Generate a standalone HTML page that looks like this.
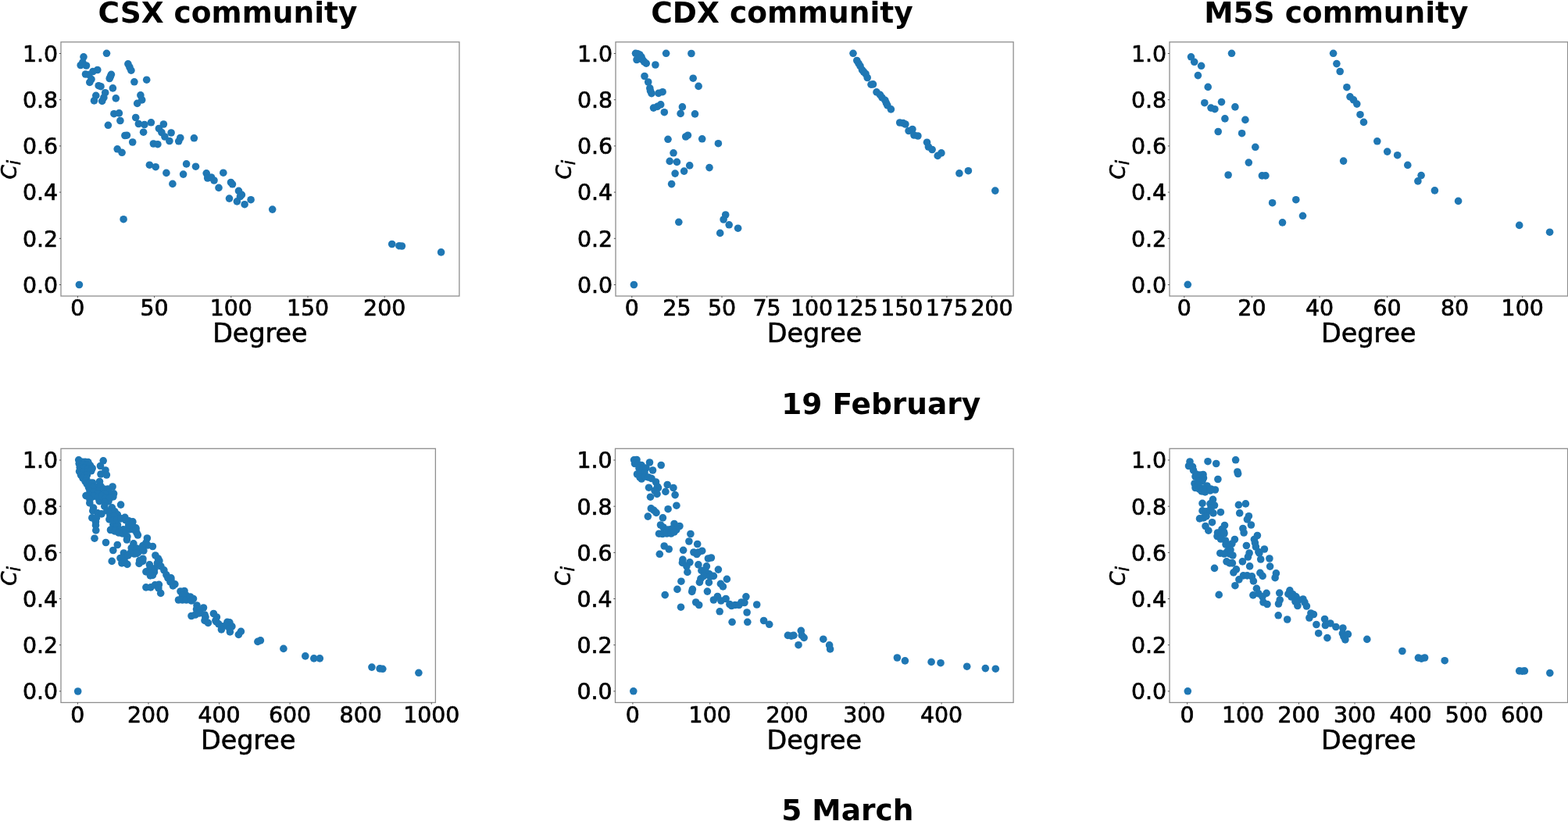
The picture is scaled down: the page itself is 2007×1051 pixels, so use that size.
<!DOCTYPE html>
<html lang="en">
<head>
<meta charset="utf-8">
<title>Clustering coefficient vs degree</title>
<style>
html,body{margin:0;padding:0;background:#fff;}
body{width:2007px;height:1051px;overflow:hidden;}
svg{display:block;}
text{font-family:"DejaVu Sans", "Liberation Sans", sans-serif;fill:#000;}
.t{font-size:28.4px;stroke:#000;stroke-width:0.7px;stroke-linejoin:round;}
.l{font-size:33.4px;text-anchor:middle;stroke:#000;stroke-width:0.6px;stroke-linejoin:round;}
.h{font-size:37.5px;font-weight:bold;}
.y{font-size:26.2px;font-style:italic;text-anchor:start;stroke:#000;stroke-width:0.6px;stroke-linejoin:round;}
.yi{font-size:22.5px;}
.fr{fill:none;stroke:#8e8e8e;stroke-width:1.3;}
.tk{stroke:#444;stroke-width:0.9;}
.d circle{fill:#1f77b4;}
</style>
</head>
<body>
<svg width="2007" height="1051" viewBox="0 0 2007 1051">
<rect width="2007" height="1051" fill="#fff"/>
<g id="p1">
<g class="d"><circle cx="136.5" cy="68.3" r="4.8"/><circle cx="107" cy="72.8" r="4.8"/><circle cx="103.2" cy="83.5" r="4.8"/><circle cx="110.5" cy="84" r="4.8"/><circle cx="105.8" cy="80" r="4.8"/><circle cx="124.8" cy="89.5" r="4.8"/><circle cx="119" cy="91.5" r="4.8"/><circle cx="109.5" cy="95" r="4.8"/><circle cx="114" cy="95.5" r="4.8"/><circle cx="117" cy="101.5" r="4.8"/><circle cx="114.8" cy="105.4" r="4.8"/><circle cx="142.4" cy="95.3" r="4.8"/><circle cx="141.4" cy="98" r="4.8"/><circle cx="140.2" cy="100.5" r="4.8"/><circle cx="163.9" cy="81.8" r="4.8"/><circle cx="165.9" cy="86" r="4.8"/><circle cx="167.9" cy="90.2" r="4.8"/><circle cx="171.9" cy="104.8" r="4.8"/><circle cx="187.7" cy="102.2" r="4.8"/><circle cx="126.2" cy="109.7" r="4.8"/><circle cx="129" cy="110.7" r="4.8"/><circle cx="144.4" cy="112.9" r="4.8"/><circle cx="134.7" cy="118.7" r="4.8"/><circle cx="122.8" cy="122.4" r="4.8"/><circle cx="120.5" cy="128.9" r="4.8"/><circle cx="132.9" cy="124.9" r="4.8"/><circle cx="130.7" cy="129.4" r="4.8"/><circle cx="148.3" cy="125.9" r="4.8"/><circle cx="179.9" cy="121.9" r="4.8"/><circle cx="181.7" cy="127.9" r="4.8"/><circle cx="175.7" cy="132.4" r="4.8"/><circle cx="145.9" cy="145.7" r="4.8"/><circle cx="152.4" cy="144.9" r="4.8"/><circle cx="138.4" cy="160.3" r="4.8"/><circle cx="153.9" cy="154.5" r="4.8"/><circle cx="173.7" cy="150.5" r="4.8"/><circle cx="177.4" cy="158.5" r="4.8"/><circle cx="184.9" cy="159.5" r="4.8"/><circle cx="193.4" cy="156.8" r="4.8"/><circle cx="183.6" cy="169.2" r="4.8"/><circle cx="209.4" cy="159" r="4.8"/><circle cx="203.4" cy="164.5" r="4.8"/><circle cx="206.9" cy="169.5" r="4.8"/><circle cx="210.9" cy="175" r="4.8"/><circle cx="216.9" cy="180.5" r="4.8"/><circle cx="219.1" cy="170" r="4.8"/><circle cx="230.8" cy="176.5" r="4.8"/><circle cx="228.7" cy="180.8" r="4.8"/><circle cx="248.4" cy="176.8" r="4.8"/><circle cx="159.9" cy="173.5" r="4.8"/><circle cx="162.4" cy="173.2" r="4.8"/><circle cx="169.7" cy="182" r="4.8"/><circle cx="196.4" cy="184" r="4.8"/><circle cx="201.9" cy="184.7" r="4.8"/><circle cx="150.2" cy="190.8" r="4.8"/><circle cx="156.1" cy="195.3" r="4.8"/><circle cx="191.4" cy="211.2" r="4.8"/><circle cx="199.2" cy="213.7" r="4.8"/><circle cx="212.9" cy="221.4" r="4.8"/><circle cx="220.9" cy="235.4" r="4.8"/><circle cx="234.6" cy="223.1" r="4.8"/><circle cx="238.6" cy="209.9" r="4.8"/><circle cx="250.5" cy="213.2" r="4.8"/><circle cx="264.2" cy="221.8" r="4.8"/><circle cx="265.7" cy="228" r="4.8"/><circle cx="270.5" cy="227" r="4.8"/><circle cx="274" cy="231" r="4.8"/><circle cx="285.8" cy="221.2" r="4.8"/><circle cx="280" cy="240.4" r="4.8"/><circle cx="295.5" cy="233.5" r="4.8"/><circle cx="297.5" cy="235.8" r="4.8"/><circle cx="305.5" cy="244.4" r="4.8"/><circle cx="309.4" cy="249.4" r="4.8"/><circle cx="307.4" cy="251.7" r="4.8"/><circle cx="293.5" cy="254.1" r="4.8"/><circle cx="303.4" cy="257.9" r="4.8"/><circle cx="313.1" cy="261.7" r="4.8"/><circle cx="321.1" cy="255.7" r="4.8"/><circle cx="348.7" cy="268.1" r="4.8"/><circle cx="501.7" cy="312.5" r="4.8"/><circle cx="510.9" cy="314.7" r="4.8"/><circle cx="514.4" cy="315" r="4.8"/><circle cx="564.6" cy="322.9" r="4.8"/><circle cx="158.1" cy="280.7" r="4.8"/><circle cx="101.4" cy="364.5" r="4.8"/></g>
<rect class="fr" x="78" y="53.8" width="509.9" height="325.2"/>
<path class="tk" d="M99.4 379v2.2M197.6 379v2.2M295.8 379v2.2M394 379v2.2M492.2 379v2.2M78 364.5h-2.2M78 305.3h-2.2M78 246.1h-2.2M78 186.9h-2.2M78 127.7h-2.2M78 68.5h-2.2"/>
<text class="t" text-anchor="middle" x="99.4" y="404.1">0</text><text class="t" text-anchor="middle" x="197.6" y="404.1">50</text><text class="t" text-anchor="middle" x="295.8" y="404.1">100</text><text class="t" text-anchor="middle" x="394" y="404.1">150</text><text class="t" text-anchor="middle" x="492.2" y="404.1">200</text>
<text class="t" text-anchor="end" x="74.1" y="374.8">0.0</text><text class="t" text-anchor="end" x="74.1" y="315.6">0.2</text><text class="t" text-anchor="end" x="74.1" y="256.4">0.4</text><text class="t" text-anchor="end" x="74.1" y="197.2">0.6</text><text class="t" text-anchor="end" x="74.1" y="138">0.8</text><text class="t" text-anchor="end" x="74.1" y="78.8">1.0</text>
<text class="l" x="332.9" y="438.3">Degree</text>
<text class="y" transform="translate(20.8 229.4) rotate(-90)">C<tspan class="yi" dx="-0.1" dy="4.9">i</tspan></text>
<text class="h" text-anchor="middle" x="291.4" y="28.8">CSX community</text>
</g>
<g id="p2">
<g class="d"><circle cx="813.5" cy="68.3" r="4.8"/><circle cx="816.2" cy="68.8" r="4.8"/><circle cx="818.8" cy="70" r="4.8"/><circle cx="821" cy="73" r="4.8"/><circle cx="815" cy="76.5" r="4.8"/><circle cx="819" cy="75" r="4.8"/><circle cx="822.5" cy="76.5" r="4.8"/><circle cx="824.5" cy="79" r="4.8"/><circle cx="827.2" cy="81.2" r="4.8"/><circle cx="852.6" cy="68.3" r="4.8"/><circle cx="884.9" cy="68.5" r="4.8"/><circle cx="838.9" cy="83" r="4.8"/><circle cx="825" cy="97.5" r="4.8"/><circle cx="829.7" cy="105" r="4.8"/><circle cx="831.8" cy="112.9" r="4.8"/><circle cx="834" cy="119.7" r="4.8"/><circle cx="832.5" cy="116.4" r="4.8"/><circle cx="842.9" cy="119.4" r="4.8"/><circle cx="848.1" cy="117.7" r="4.8"/><circle cx="887.2" cy="100.2" r="4.8"/><circle cx="894.1" cy="110.4" r="4.8"/><circle cx="836.5" cy="138.1" r="4.8"/><circle cx="841.4" cy="136.4" r="4.8"/><circle cx="845.7" cy="133.9" r="4.8"/><circle cx="850.3" cy="143.7" r="4.8"/><circle cx="873.4" cy="136.9" r="4.8"/><circle cx="871.1" cy="145.4" r="4.8"/><circle cx="889.5" cy="145.9" r="4.8"/><circle cx="855" cy="178.3" r="4.8"/><circle cx="877.7" cy="175" r="4.8"/><circle cx="880.4" cy="173.2" r="4.8"/><circle cx="898.7" cy="177.8" r="4.8"/><circle cx="919.4" cy="183.7" r="4.8"/><circle cx="862" cy="195.8" r="4.8"/><circle cx="857.2" cy="206.4" r="4.8"/><circle cx="866.4" cy="207.4" r="4.8"/><circle cx="882.7" cy="211.9" r="4.8"/><circle cx="875.6" cy="219.1" r="4.8"/><circle cx="864.1" cy="222.1" r="4.8"/><circle cx="908" cy="214.6" r="4.8"/><circle cx="859.6" cy="235.6" r="4.8"/><circle cx="868.8" cy="284.3" r="4.8"/><circle cx="928.7" cy="275" r="4.8"/><circle cx="926.1" cy="281" r="4.8"/><circle cx="933.2" cy="287.8" r="4.8"/><circle cx="944.6" cy="292.2" r="4.8"/><circle cx="921.7" cy="298.4" r="4.8"/><circle cx="811.4" cy="364.5" r="4.8"/><circle cx="1092" cy="68.3" r="4.8"/><circle cx="1096.8" cy="77.5" r="4.8"/><circle cx="1099" cy="81.2" r="4.8"/><circle cx="1101" cy="84.5" r="4.8"/><circle cx="1103.5" cy="89.5" r="4.8"/><circle cx="1105.5" cy="92" r="4.8"/><circle cx="1108" cy="94.5" r="4.8"/><circle cx="1110.2" cy="99.5" r="4.8"/><circle cx="1115" cy="108.2" r="4.8"/><circle cx="1117.5" cy="107.9" r="4.8"/><circle cx="1122" cy="117.9" r="4.8"/><circle cx="1126.5" cy="121.4" r="4.8"/><circle cx="1129" cy="124.9" r="4.8"/><circle cx="1132.9" cy="128.4" r="4.8"/><circle cx="1134.4" cy="131.9" r="4.8"/><circle cx="1135.9" cy="134.9" r="4.8"/><circle cx="1140.4" cy="139.9" r="4.8"/><circle cx="1151.7" cy="157" r="4.8"/><circle cx="1155.9" cy="157.5" r="4.8"/><circle cx="1158.9" cy="159" r="4.8"/><circle cx="1163.1" cy="167.5" r="4.8"/><circle cx="1167.9" cy="165.5" r="4.8"/><circle cx="1169.9" cy="173" r="4.8"/><circle cx="1174.9" cy="174" r="4.8"/><circle cx="1186.5" cy="182.2" r="4.8"/><circle cx="1188.4" cy="188" r="4.8"/><circle cx="1193.1" cy="191.5" r="4.8"/><circle cx="1204.9" cy="195.9" r="4.8"/><circle cx="1200.2" cy="199.4" r="4.8"/><circle cx="1227.9" cy="221.9" r="4.8"/><circle cx="1239.4" cy="218.7" r="4.8"/><circle cx="1273.8" cy="244.1" r="4.8"/></g>
<rect class="fr" x="788" y="53.8" width="509.1" height="325.2"/>
<path class="tk" d="M808.8 379v2.2M866.4 379v2.2M924 379v2.2M981.6 379v2.2M1039.1 379v2.2M1096.7 379v2.2M1154.3 379v2.2M1211.9 379v2.2M1269.5 379v2.2M788 364.5h-2.2M788 305.3h-2.2M788 246.1h-2.2M788 186.9h-2.2M788 127.7h-2.2M788 68.5h-2.2"/>
<text class="t" text-anchor="middle" x="808.8" y="404.1">0</text><text class="t" text-anchor="middle" x="866.4" y="404.1">25</text><text class="t" text-anchor="middle" x="924" y="404.1">50</text><text class="t" text-anchor="middle" x="981.6" y="404.1">75</text><text class="t" text-anchor="middle" x="1039.1" y="404.1">100</text><text class="t" text-anchor="middle" x="1096.7" y="404.1">125</text><text class="t" text-anchor="middle" x="1154.3" y="404.1">150</text><text class="t" text-anchor="middle" x="1211.9" y="404.1">175</text><text class="t" text-anchor="middle" x="1269.5" y="404.1">200</text>
<text class="t" text-anchor="end" x="784.1" y="374.8">0.0</text><text class="t" text-anchor="end" x="784.1" y="315.6">0.2</text><text class="t" text-anchor="end" x="784.1" y="256.4">0.4</text><text class="t" text-anchor="end" x="784.1" y="197.2">0.6</text><text class="t" text-anchor="end" x="784.1" y="138">0.8</text><text class="t" text-anchor="end" x="784.1" y="78.8">1.0</text>
<text class="l" x="1042.5" y="438.3">Degree</text>
<text class="y" transform="translate(730.8 229.4) rotate(-90)">C<tspan class="yi" dx="-0.1" dy="4.9">i</tspan></text>
<text class="h" text-anchor="middle" x="1001" y="28.8">CDX community</text>
</g>
<g id="p3">
<g class="d"><circle cx="1576.5" cy="68.3" r="4.8"/><circle cx="1524.5" cy="72.8" r="4.8"/><circle cx="1528.7" cy="79.3" r="4.8"/><circle cx="1537.6" cy="84.3" r="4.8"/><circle cx="1533.4" cy="96.6" r="4.8"/><circle cx="1546.2" cy="111.4" r="4.8"/><circle cx="1541.8" cy="131.7" r="4.8"/><circle cx="1550" cy="138.1" r="4.8"/><circle cx="1554.9" cy="139.7" r="4.8"/><circle cx="1563.5" cy="130.6" r="4.8"/><circle cx="1580.9" cy="136.9" r="4.8"/><circle cx="1567.9" cy="151.9" r="4.8"/><circle cx="1593.9" cy="153.4" r="4.8"/><circle cx="1559.2" cy="168.5" r="4.8"/><circle cx="1589.6" cy="170.7" r="4.8"/><circle cx="1606.8" cy="188.3" r="4.8"/><circle cx="1598.3" cy="208.1" r="4.8"/><circle cx="1572.1" cy="224" r="4.8"/><circle cx="1615.4" cy="224.9" r="4.8"/><circle cx="1619.9" cy="224.9" r="4.8"/><circle cx="1628.6" cy="259.7" r="4.8"/><circle cx="1658.8" cy="255.7" r="4.8"/><circle cx="1667.5" cy="276.3" r="4.8"/><circle cx="1641.5" cy="284.9" r="4.8"/><circle cx="1520.3" cy="364.3" r="4.8"/><circle cx="1706.6" cy="68.3" r="4.8"/><circle cx="1710.9" cy="81.6" r="4.8"/><circle cx="1715.2" cy="91.5" r="4.8"/><circle cx="1723.9" cy="111.7" r="4.8"/><circle cx="1728" cy="123.9" r="4.8"/><circle cx="1732.5" cy="127.9" r="4.8"/><circle cx="1736.8" cy="133.1" r="4.8"/><circle cx="1741" cy="146.7" r="4.8"/><circle cx="1745.5" cy="156.4" r="4.8"/><circle cx="1762.8" cy="180.8" r="4.8"/><circle cx="1775.7" cy="194.1" r="4.8"/><circle cx="1788.7" cy="198.7" r="4.8"/><circle cx="1801.8" cy="211.4" r="4.8"/><circle cx="1819.1" cy="224.6" r="4.8"/><circle cx="1814.9" cy="231.9" r="4.8"/><circle cx="1836.4" cy="243.9" r="4.8"/><circle cx="1866.6" cy="257.4" r="4.8"/><circle cx="1719.6" cy="206.1" r="4.8"/><circle cx="1944.7" cy="288.4" r="4.8"/><circle cx="1983.6" cy="297.2" r="4.8"/></g>
<rect class="fr" x="1497" y="53.8" width="509.6" height="325.2"/>
<path class="tk" d="M1515.8 379v2.2M1602.4 379v2.2M1689 379v2.2M1775.5 379v2.2M1862.1 379v2.2M1948.7 379v2.2M1497 364.5h-2.2M1497 305.3h-2.2M1497 246.1h-2.2M1497 186.9h-2.2M1497 127.7h-2.2M1497 68.5h-2.2"/>
<text class="t" text-anchor="middle" x="1515.8" y="404.1">0</text><text class="t" text-anchor="middle" x="1602.4" y="404.1">20</text><text class="t" text-anchor="middle" x="1689" y="404.1">40</text><text class="t" text-anchor="middle" x="1775.5" y="404.1">60</text><text class="t" text-anchor="middle" x="1862.1" y="404.1">80</text><text class="t" text-anchor="middle" x="1948.7" y="404.1">100</text>
<text class="t" text-anchor="end" x="1493.1" y="374.8">0.0</text><text class="t" text-anchor="end" x="1493.1" y="315.6">0.2</text><text class="t" text-anchor="end" x="1493.1" y="256.4">0.4</text><text class="t" text-anchor="end" x="1493.1" y="197.2">0.6</text><text class="t" text-anchor="end" x="1493.1" y="138">0.8</text><text class="t" text-anchor="end" x="1493.1" y="78.8">1.0</text>
<text class="l" x="1751.8" y="438.3">Degree</text>
<text class="y" transform="translate(1439.8 229.4) rotate(-90)">C<tspan class="yi" dx="-0.1" dy="4.9">i</tspan></text>
<text class="h" text-anchor="middle" x="1710.3" y="28.8">M5S community</text>
</g>
<g id="p4">
<g class="d"><circle cx="100.7" cy="588.8" r="4.8"/><circle cx="105.5" cy="591.4" r="4.8"/><circle cx="109" cy="591.3" r="4.8"/><circle cx="112.8" cy="591.6" r="4.8"/><circle cx="101.2" cy="593.5" r="4.8"/><circle cx="106.5" cy="594.5" r="4.8"/><circle cx="111.5" cy="595.5" r="4.8"/><circle cx="115.5" cy="595.8" r="4.8"/><circle cx="102.2" cy="598.5" r="4.8"/><circle cx="107.5" cy="599.2" r="4.8"/><circle cx="113" cy="599.8" r="4.8"/><circle cx="118.2" cy="599.5" r="4.8"/><circle cx="101.6" cy="603.5" r="4.8"/><circle cx="107" cy="604" r="4.8"/><circle cx="112.5" cy="604.2" r="4.8"/><circle cx="116.8" cy="602.8" r="4.8"/><circle cx="103.5" cy="608" r="4.8"/><circle cx="109" cy="608.5" r="4.8"/><circle cx="111.5" cy="608" r="4.8"/><circle cx="106" cy="612" r="4.8"/><circle cx="110.5" cy="612.5" r="4.8"/><circle cx="109" cy="616" r="4.8"/><circle cx="111.2" cy="619.5" r="4.8"/><circle cx="132.2" cy="589.8" r="4.8"/><circle cx="128.5" cy="596.5" r="4.8"/><circle cx="135" cy="602" r="4.8"/><circle cx="129" cy="607" r="4.8"/><circle cx="136.4" cy="608" r="4.8"/><circle cx="127.5" cy="616.5" r="4.8"/><circle cx="115" cy="618" r="4.8"/><circle cx="118.5" cy="618" r="4.8"/><circle cx="123.5" cy="623.5" r="4.8"/><circle cx="129" cy="622.5" r="4.8"/><circle cx="126" cy="628" r="4.8"/><circle cx="127.2" cy="641.6" r="4.8"/><circle cx="144.9" cy="671.4" r="4.8"/><circle cx="150.5" cy="672" r="4.8"/><circle cx="113.5" cy="624" r="4.8"/><circle cx="118.5" cy="624.5" r="4.8"/><circle cx="115" cy="628.9" r="4.8"/><circle cx="120" cy="629.9" r="4.8"/><circle cx="125" cy="631.9" r="4.8"/><circle cx="110" cy="634.6" r="4.8"/><circle cx="115" cy="634.6" r="4.8"/><circle cx="120" cy="635.4" r="4.8"/><circle cx="125.5" cy="636.9" r="4.8"/><circle cx="133" cy="626" r="4.8"/><circle cx="137.9" cy="626" r="4.8"/><circle cx="144.1" cy="623" r="4.8"/><circle cx="139.4" cy="629.9" r="4.8"/><circle cx="145.6" cy="631.9" r="4.8"/><circle cx="144.9" cy="635.9" r="4.8"/><circle cx="134" cy="631.9" r="4.8"/><circle cx="130" cy="635.4" r="4.8"/><circle cx="135" cy="637.9" r="4.8"/><circle cx="140.4" cy="637.9" r="4.8"/><circle cx="138.9" cy="641.9" r="4.8"/><circle cx="115" cy="639.4" r="4.8"/><circle cx="114.8" cy="643.9" r="4.8"/><circle cx="119.6" cy="650.1" r="4.8"/><circle cx="118.8" cy="653.9" r="4.8"/><circle cx="134" cy="642.9" r="4.8"/><circle cx="133.8" cy="648.2" r="4.8"/><circle cx="143.4" cy="649.9" r="4.8"/><circle cx="136.9" cy="653.9" r="4.8"/><circle cx="141.9" cy="654.9" r="4.8"/><circle cx="146.9" cy="654.9" r="4.8"/><circle cx="150.4" cy="658.9" r="4.8"/><circle cx="140.9" cy="659.9" r="4.8"/><circle cx="145.9" cy="660.9" r="4.8"/><circle cx="139.9" cy="664.9" r="4.8"/><circle cx="144.9" cy="665.9" r="4.8"/><circle cx="149.9" cy="664.9" r="4.8"/><circle cx="154.9" cy="663.9" r="4.8"/><circle cx="159.9" cy="662.4" r="4.8"/><circle cx="160.9" cy="665.9" r="4.8"/><circle cx="164.9" cy="666.9" r="4.8"/><circle cx="169.9" cy="667.9" r="4.8"/><circle cx="169.4" cy="671.9" r="4.8"/><circle cx="164.9" cy="672.9" r="4.8"/><circle cx="173.9" cy="675.9" r="4.8"/><circle cx="170.9" cy="677.9" r="4.8"/><circle cx="162.9" cy="677.9" r="4.8"/><circle cx="157.9" cy="677.9" r="4.8"/><circle cx="152.9" cy="678.4" r="4.8"/><circle cx="146.9" cy="677.9" r="4.8"/><circle cx="141.9" cy="678.1" r="4.8"/><circle cx="174.9" cy="681.9" r="4.8"/><circle cx="125" cy="656.9" r="4.8"/><circle cx="130" cy="657.9" r="4.8"/><circle cx="117.8" cy="662.9" r="4.8"/><circle cx="123.5" cy="662.9" r="4.8"/><circle cx="122.5" cy="667.9" r="4.8"/><circle cx="122.5" cy="672.4" r="4.8"/><circle cx="122.8" cy="678.9" r="4.8"/><circle cx="154.6" cy="646.1" r="4.8"/><circle cx="121" cy="689.2" r="4.8"/><circle cx="135.5" cy="694.5" r="4.8"/><circle cx="150.3" cy="697.5" r="4.8"/><circle cx="144.8" cy="704.5" r="4.8"/><circle cx="143.2" cy="718.4" r="4.8"/><circle cx="141.5" cy="678.5" r="4.8"/><circle cx="147" cy="680" r="4.8"/><circle cx="152" cy="682" r="4.8"/><circle cx="156.9" cy="683" r="4.8"/><circle cx="164.9" cy="678" r="4.8"/><circle cx="169.9" cy="676" r="4.8"/><circle cx="173.9" cy="677.5" r="4.8"/><circle cx="176.4" cy="685" r="4.8"/><circle cx="162.9" cy="687" r="4.8"/><circle cx="162.4" cy="691" r="4.8"/><circle cx="160.9" cy="679" r="4.8"/><circle cx="164.9" cy="672" r="4.8"/><circle cx="168.9" cy="671" r="4.8"/><circle cx="170.9" cy="695.8" r="4.8"/><circle cx="188.4" cy="689" r="4.8"/><circle cx="186.9" cy="695" r="4.8"/><circle cx="182.9" cy="698.5" r="4.8"/><circle cx="188.9" cy="698" r="4.8"/><circle cx="195.4" cy="699.5" r="4.8"/><circle cx="168.2" cy="701.5" r="4.8"/><circle cx="174.9" cy="702" r="4.8"/><circle cx="179.9" cy="704" r="4.8"/><circle cx="183.9" cy="705" r="4.8"/><circle cx="166.9" cy="708" r="4.8"/><circle cx="171.9" cy="709" r="4.8"/><circle cx="176.9" cy="707" r="4.8"/><circle cx="174.9" cy="708.5" r="4.8"/><circle cx="181.9" cy="701" r="4.8"/><circle cx="158.4" cy="708" r="4.8"/><circle cx="154" cy="714.5" r="4.8"/><circle cx="159.4" cy="714" r="4.8"/><circle cx="155.9" cy="720.9" r="4.8"/><circle cx="162.9" cy="722.4" r="4.8"/><circle cx="163.9" cy="711" r="4.8"/><circle cx="159.4" cy="718.9" r="4.8"/><circle cx="182.9" cy="715.2" r="4.8"/><circle cx="178.1" cy="721.4" r="4.8"/><circle cx="178.7" cy="717.5" r="4.8"/><circle cx="182.7" cy="718.4" r="4.8"/><circle cx="191.4" cy="722.9" r="4.8"/><circle cx="186.9" cy="731.9" r="4.8"/><circle cx="191.9" cy="727.9" r="4.8"/><circle cx="197.4" cy="732.4" r="4.8"/><circle cx="195.4" cy="736.4" r="4.8"/><circle cx="197.9" cy="727.9" r="4.8"/><circle cx="191.9" cy="733.9" r="4.8"/><circle cx="192.4" cy="736.9" r="4.8"/><circle cx="198.9" cy="711" r="4.8"/><circle cx="202.4" cy="715" r="4.8"/><circle cx="203.9" cy="718" r="4.8"/><circle cx="201.4" cy="720.9" r="4.8"/><circle cx="205.9" cy="724.9" r="4.8"/><circle cx="209.9" cy="729.9" r="4.8"/><circle cx="212.9" cy="735.9" r="4.8"/><circle cx="214.9" cy="739.9" r="4.8"/><circle cx="218.9" cy="739.9" r="4.8"/><circle cx="217.9" cy="744.9" r="4.8"/><circle cx="223.9" cy="747.9" r="4.8"/><circle cx="221.4" cy="749.9" r="4.8"/><circle cx="186.9" cy="751.9" r="4.8"/><circle cx="192.9" cy="751.9" r="4.8"/><circle cx="198.4" cy="748.9" r="4.8"/><circle cx="203.4" cy="748.4" r="4.8"/><circle cx="202.9" cy="752.9" r="4.8"/><circle cx="205.7" cy="759.4" r="4.8"/><circle cx="219" cy="743" r="4.8"/><circle cx="231" cy="757" r="4.8"/><circle cx="236" cy="756.5" r="4.8"/><circle cx="238" cy="762" r="4.8"/><circle cx="233.5" cy="762.5" r="4.8"/><circle cx="228.5" cy="768" r="4.8"/><circle cx="233.5" cy="768" r="4.8"/><circle cx="238.5" cy="768" r="4.8"/><circle cx="243.5" cy="764" r="4.8"/><circle cx="247.5" cy="766.5" r="4.8"/><circle cx="245" cy="769" r="4.8"/><circle cx="252" cy="775" r="4.8"/><circle cx="260.5" cy="778" r="4.8"/><circle cx="251.5" cy="780" r="4.8"/><circle cx="256" cy="781" r="4.8"/><circle cx="245" cy="788.5" r="4.8"/><circle cx="250" cy="787" r="4.8"/><circle cx="255" cy="785" r="4.8"/><circle cx="262" cy="787" r="4.8"/><circle cx="263" cy="790" r="4.8"/><circle cx="262" cy="794.4" r="4.8"/><circle cx="266.4" cy="797.4" r="4.8"/><circle cx="273.4" cy="785.5" r="4.8"/><circle cx="277.4" cy="790" r="4.8"/><circle cx="275.9" cy="794.4" r="4.8"/><circle cx="276.9" cy="795.9" r="4.8"/><circle cx="279.9" cy="798.9" r="4.8"/><circle cx="290.9" cy="796.4" r="4.8"/><circle cx="293.9" cy="796.9" r="4.8"/><circle cx="296.9" cy="801.9" r="4.8"/><circle cx="283.9" cy="801.9" r="4.8"/><circle cx="288.9" cy="800.9" r="4.8"/><circle cx="283.4" cy="805.9" r="4.8"/><circle cx="294.4" cy="808.9" r="4.8"/><circle cx="293.9" cy="804.9" r="4.8"/><circle cx="308.4" cy="808.4" r="4.8"/><circle cx="305.4" cy="812.4" r="4.8"/><circle cx="329.9" cy="821.4" r="4.8"/><circle cx="333.4" cy="819.9" r="4.8"/><circle cx="362.9" cy="830.4" r="4.8"/><circle cx="390.8" cy="839.9" r="4.8"/><circle cx="401.8" cy="842.9" r="4.8"/><circle cx="409.3" cy="842.9" r="4.8"/><circle cx="475.9" cy="854.1" r="4.8"/><circle cx="486.1" cy="855.9" r="4.8"/><circle cx="489.8" cy="856.3" r="4.8"/><circle cx="535.9" cy="861.3" r="4.8"/><circle cx="99.7" cy="885" r="4.8"/></g>
<rect class="fr" x="78" y="574.3" width="479.4" height="325.1"/>
<path class="tk" d="M99.4 899.4v2.2M190 899.4v2.2M280.6 899.4v2.2M371.1 899.4v2.2M461.7 899.4v2.2M552.3 899.4v2.2M78 884.9h-2.2M78 825.7h-2.2M78 766.5h-2.2M78 707.4h-2.2M78 648.2h-2.2M78 589h-2.2"/>
<text class="t" text-anchor="middle" x="99.4" y="924.5">0</text><text class="t" text-anchor="middle" x="190" y="924.5">200</text><text class="t" text-anchor="middle" x="280.6" y="924.5">400</text><text class="t" text-anchor="middle" x="371.1" y="924.5">600</text><text class="t" text-anchor="middle" x="461.7" y="924.5">800</text><text class="t" text-anchor="middle" x="552.3" y="924.5">1000</text>
<text class="t" text-anchor="end" x="74.1" y="895.2">0.0</text><text class="t" text-anchor="end" x="74.1" y="836">0.2</text><text class="t" text-anchor="end" x="74.1" y="776.8">0.4</text><text class="t" text-anchor="end" x="74.1" y="717.7">0.6</text><text class="t" text-anchor="end" x="74.1" y="658.5">0.8</text><text class="t" text-anchor="end" x="74.1" y="599.3">1.0</text>
<text class="l" x="317.7" y="958.7">Degree</text>
<text class="y" transform="translate(20.8 749.8) rotate(-90)">C<tspan class="yi" dx="-0.1" dy="4.9">i</tspan></text>
</g>
<g id="p5">
<g class="d"><circle cx="811.5" cy="588.8" r="4.8"/><circle cx="815" cy="588.5" r="4.8"/><circle cx="812.5" cy="593.5" r="4.8"/><circle cx="817" cy="594.5" r="4.8"/><circle cx="821" cy="595.5" r="4.8"/><circle cx="831.5" cy="592" r="4.8"/><circle cx="846.2" cy="595.5" r="4.8"/><circle cx="835.5" cy="602" r="4.8"/><circle cx="818" cy="599.5" r="4.8"/><circle cx="823" cy="600" r="4.8"/><circle cx="827" cy="599" r="4.8"/><circle cx="815.5" cy="607" r="4.8"/><circle cx="820" cy="606" r="4.8"/><circle cx="825" cy="605" r="4.8"/><circle cx="819" cy="611" r="4.8"/><circle cx="821.2" cy="613" r="4.8"/><circle cx="826" cy="610" r="4.8"/><circle cx="834" cy="612.5" r="4.8"/><circle cx="830" cy="611" r="4.8"/><circle cx="839.5" cy="617" r="4.8"/><circle cx="841.5" cy="623" r="4.8"/><circle cx="842.5" cy="624.5" r="4.8"/><circle cx="830.5" cy="624.2" r="4.8"/><circle cx="838" cy="628" r="4.8"/><circle cx="841" cy="632.4" r="4.8"/><circle cx="832.5" cy="636.2" r="4.8"/><circle cx="854.2" cy="620.5" r="4.8"/><circle cx="861.9" cy="624.5" r="4.8"/><circle cx="851.9" cy="629.4" r="4.8"/><circle cx="864.1" cy="633.6" r="4.8"/><circle cx="865.9" cy="647.2" r="4.8"/><circle cx="855.1" cy="651.7" r="4.8"/><circle cx="833.3" cy="650.9" r="4.8"/><circle cx="837" cy="653.4" r="4.8"/><circle cx="840" cy="656.4" r="4.8"/><circle cx="829.3" cy="661.1" r="4.8"/><circle cx="848.4" cy="662.9" r="4.8"/><circle cx="845.5" cy="672" r="4.8"/><circle cx="849" cy="675" r="4.8"/><circle cx="863" cy="670.5" r="4.8"/><circle cx="869.9" cy="673.5" r="4.8"/><circle cx="855" cy="678" r="4.8"/><circle cx="860" cy="677" r="4.8"/><circle cx="865.9" cy="678" r="4.8"/><circle cx="843.5" cy="683.2" r="4.8"/><circle cx="848" cy="683.5" r="4.8"/><circle cx="853.5" cy="683" r="4.8"/><circle cx="859" cy="683" r="4.8"/><circle cx="863" cy="681" r="4.8"/><circle cx="883.9" cy="683.5" r="4.8"/><circle cx="881.9" cy="693" r="4.8"/><circle cx="892.7" cy="696.5" r="4.8"/><circle cx="850.2" cy="699" r="4.8"/><circle cx="856.2" cy="703" r="4.8"/><circle cx="844.3" cy="709.3" r="4.8"/><circle cx="874.6" cy="704.3" r="4.8"/><circle cx="887.9" cy="707" r="4.8"/><circle cx="891.9" cy="709.5" r="4.8"/><circle cx="898.7" cy="705.2" r="4.8"/><circle cx="893.9" cy="707" r="4.8"/><circle cx="906.4" cy="715" r="4.8"/><circle cx="910.4" cy="714" r="4.8"/><circle cx="873.9" cy="716.4" r="4.8"/><circle cx="873.4" cy="720.4" r="4.8"/><circle cx="882.9" cy="719.9" r="4.8"/><circle cx="878.9" cy="724.9" r="4.8"/><circle cx="879.9" cy="732.4" r="4.8"/><circle cx="893.9" cy="722.9" r="4.8"/><circle cx="904.4" cy="724.9" r="4.8"/><circle cx="897.9" cy="730.4" r="4.8"/><circle cx="901.9" cy="733.9" r="4.8"/><circle cx="907.9" cy="734.9" r="4.8"/><circle cx="913.4" cy="737.4" r="4.8"/><circle cx="919.4" cy="729.1" r="4.8"/><circle cx="896.9" cy="740.9" r="4.8"/><circle cx="895.4" cy="745.4" r="4.8"/><circle cx="902.9" cy="730.9" r="4.8"/><circle cx="900.9" cy="737.4" r="4.8"/><circle cx="908.9" cy="737.9" r="4.8"/><circle cx="907.4" cy="745.7" r="4.8"/><circle cx="930.4" cy="741.4" r="4.8"/><circle cx="922.4" cy="747.4" r="4.8"/><circle cx="925.4" cy="750.9" r="4.8"/><circle cx="871.9" cy="744.2" r="4.8"/><circle cx="866.9" cy="754.4" r="4.8"/><circle cx="886.4" cy="754.4" r="4.8"/><circle cx="885.7" cy="757.4" r="4.8"/><circle cx="905.4" cy="757.1" r="4.8"/><circle cx="851.2" cy="761.6" r="4.8"/><circle cx="871.5" cy="777.2" r="4.8"/><circle cx="890.7" cy="771" r="4.8"/><circle cx="894.7" cy="774.5" r="4.8"/><circle cx="918.4" cy="763.5" r="4.8"/><circle cx="913.4" cy="768" r="4.8"/><circle cx="922.9" cy="769" r="4.8"/><circle cx="929.1" cy="766.5" r="4.8"/><circle cx="933.9" cy="773.5" r="4.8"/><circle cx="936.4" cy="775.5" r="4.8"/><circle cx="940.9" cy="774.5" r="4.8"/><circle cx="945.9" cy="774.5" r="4.8"/><circle cx="948.9" cy="771" r="4.8"/><circle cx="952.9" cy="771.5" r="4.8"/><circle cx="954.9" cy="763.8" r="4.8"/><circle cx="968.7" cy="774" r="4.8"/><circle cx="921.2" cy="782.8" r="4.8"/><circle cx="956.1" cy="784" r="4.8"/><circle cx="937.1" cy="796.3" r="4.8"/><circle cx="956.8" cy="796.3" r="4.8"/><circle cx="977.6" cy="794.5" r="4.8"/><circle cx="984.7" cy="799.3" r="4.8"/><circle cx="1008.4" cy="813.4" r="4.8"/><circle cx="1012.9" cy="814.1" r="4.8"/><circle cx="1015.9" cy="813.4" r="4.8"/><circle cx="1025.3" cy="807.4" r="4.8"/><circle cx="1026.3" cy="813.4" r="4.8"/><circle cx="1029.1" cy="816.4" r="4.8"/><circle cx="1022" cy="825.7" r="4.8"/><circle cx="1053.8" cy="818.2" r="4.8"/><circle cx="1061.6" cy="825.9" r="4.8"/><circle cx="1062.6" cy="830.9" r="4.8"/><circle cx="1148.4" cy="842" r="4.8"/><circle cx="1158.4" cy="845.9" r="4.8"/><circle cx="1192.1" cy="847.4" r="4.8"/><circle cx="1204" cy="848.7" r="4.8"/><circle cx="1237.7" cy="853.2" r="4.8"/><circle cx="1261.3" cy="855.6" r="4.8"/><circle cx="1274.3" cy="856.2" r="4.8"/><circle cx="810.8" cy="884.8" r="4.8"/></g>
<rect class="fr" x="787.5" y="574.3" width="509.6" height="325.1"/>
<path class="tk" d="M809.9 899.4v2.2M908.7 899.4v2.2M1007.5 899.4v2.2M1106.3 899.4v2.2M1205.1 899.4v2.2M787.5 884.9h-2.2M787.5 825.7h-2.2M787.5 766.5h-2.2M787.5 707.4h-2.2M787.5 648.2h-2.2M787.5 589h-2.2"/>
<text class="t" text-anchor="middle" x="809.9" y="924.5">0</text><text class="t" text-anchor="middle" x="908.7" y="924.5">100</text><text class="t" text-anchor="middle" x="1007.5" y="924.5">200</text><text class="t" text-anchor="middle" x="1106.3" y="924.5">300</text><text class="t" text-anchor="middle" x="1205.1" y="924.5">400</text>
<text class="t" text-anchor="end" x="783.6" y="895.2">0.0</text><text class="t" text-anchor="end" x="783.6" y="836">0.2</text><text class="t" text-anchor="end" x="783.6" y="776.8">0.4</text><text class="t" text-anchor="end" x="783.6" y="717.7">0.6</text><text class="t" text-anchor="end" x="783.6" y="658.5">0.8</text><text class="t" text-anchor="end" x="783.6" y="599.3">1.0</text>
<text class="l" x="1042.3" y="958.7">Degree</text>
<text class="y" transform="translate(730.3 749.8) rotate(-90)">C<tspan class="yi" dx="-0.1" dy="4.9">i</tspan></text>
</g>
<g id="p6">
<g class="d"><circle cx="1523" cy="591" r="4.8"/><circle cx="1521.5" cy="596.5" r="4.8"/><circle cx="1526.5" cy="597.5" r="4.8"/><circle cx="1527.5" cy="602" r="4.8"/><circle cx="1546" cy="590.7" r="4.8"/><circle cx="1556.7" cy="593.5" r="4.8"/><circle cx="1581.6" cy="588.8" r="4.8"/><circle cx="1583.9" cy="604" r="4.8"/><circle cx="1584.6" cy="606.5" r="4.8"/><circle cx="1558.9" cy="613.5" r="4.8"/><circle cx="1531" cy="607" r="4.8"/><circle cx="1536" cy="608" r="4.8"/><circle cx="1540" cy="607.5" r="4.8"/><circle cx="1530" cy="610" r="4.8"/><circle cx="1535" cy="612" r="4.8"/><circle cx="1540.5" cy="612" r="4.8"/><circle cx="1539" cy="615.5" r="4.8"/><circle cx="1534" cy="616.5" r="4.8"/><circle cx="1529" cy="619" r="4.8"/><circle cx="1534" cy="621" r="4.8"/><circle cx="1530" cy="624.5" r="4.8"/><circle cx="1545" cy="622" r="4.8"/><circle cx="1540" cy="625" r="4.8"/><circle cx="1535" cy="626" r="4.8"/><circle cx="1538" cy="628.9" r="4.8"/><circle cx="1542.5" cy="629.9" r="4.8"/><circle cx="1549" cy="628" r="4.8"/><circle cx="1555.4" cy="627" r="4.8"/><circle cx="1550" cy="626" r="4.8"/><circle cx="1552.5" cy="639.4" r="4.8"/><circle cx="1539" cy="644.4" r="4.8"/><circle cx="1549" cy="644.9" r="4.8"/><circle cx="1554.5" cy="646.9" r="4.8"/><circle cx="1550" cy="649.9" r="4.8"/><circle cx="1539" cy="653.9" r="4.8"/><circle cx="1544" cy="654.9" r="4.8"/><circle cx="1549" cy="653.9" r="4.8"/><circle cx="1553" cy="656.9" r="4.8"/><circle cx="1562.4" cy="655.7" r="4.8"/><circle cx="1535.5" cy="663.9" r="4.8"/><circle cx="1540.5" cy="662.9" r="4.8"/><circle cx="1544" cy="660.9" r="4.8"/><circle cx="1551.5" cy="668.7" r="4.8"/><circle cx="1585.4" cy="646.4" r="4.8"/><circle cx="1594.4" cy="644.9" r="4.8"/><circle cx="1586.7" cy="656.9" r="4.8"/><circle cx="1598.4" cy="660.7" r="4.8"/><circle cx="1596.4" cy="664.9" r="4.8"/><circle cx="1543" cy="673.5" r="4.8"/><circle cx="1546.8" cy="679.2" r="4.8"/><circle cx="1567.5" cy="672.5" r="4.8"/><circle cx="1564" cy="677.5" r="4.8"/><circle cx="1558.5" cy="682" r="4.8"/><circle cx="1566.5" cy="681" r="4.8"/><circle cx="1558" cy="686.5" r="4.8"/><circle cx="1563" cy="686" r="4.8"/><circle cx="1567" cy="683" r="4.8"/><circle cx="1562.5" cy="690" r="4.8"/><circle cx="1568.5" cy="692" r="4.8"/><circle cx="1580.4" cy="690.5" r="4.8"/><circle cx="1576.9" cy="696" r="4.8"/><circle cx="1569" cy="697" r="4.8"/><circle cx="1573" cy="700" r="4.8"/><circle cx="1575" cy="704" r="4.8"/><circle cx="1571" cy="706" r="4.8"/><circle cx="1577.9" cy="711" r="4.8"/><circle cx="1574" cy="709" r="4.8"/><circle cx="1561.8" cy="708.2" r="4.8"/><circle cx="1567" cy="709" r="4.8"/><circle cx="1570" cy="718.9" r="4.8"/><circle cx="1574" cy="720.9" r="4.8"/><circle cx="1577.4" cy="720.9" r="4.8"/><circle cx="1582.4" cy="728.9" r="4.8"/><circle cx="1578.9" cy="732.9" r="4.8"/><circle cx="1554.5" cy="727.4" r="4.8"/><circle cx="1560.2" cy="761.4" r="4.8"/><circle cx="1590.9" cy="676.5" r="4.8"/><circle cx="1592.1" cy="682" r="4.8"/><circle cx="1601.4" cy="672" r="4.8"/><circle cx="1609.4" cy="685.5" r="4.8"/><circle cx="1605.4" cy="690.5" r="4.8"/><circle cx="1606.4" cy="695" r="4.8"/><circle cx="1607.4" cy="700" r="4.8"/><circle cx="1610.9" cy="706.5" r="4.8"/><circle cx="1618.4" cy="703" r="4.8"/><circle cx="1611.9" cy="708" r="4.8"/><circle cx="1595.4" cy="698.5" r="4.8"/><circle cx="1599.1" cy="708" r="4.8"/><circle cx="1597.4" cy="713" r="4.8"/><circle cx="1590.4" cy="718.9" r="4.8"/><circle cx="1599.6" cy="724.9" r="4.8"/><circle cx="1613.7" cy="716" r="4.8"/><circle cx="1624.9" cy="715" r="4.8"/><circle cx="1625.6" cy="725.1" r="4.8"/><circle cx="1612.9" cy="733.4" r="4.8"/><circle cx="1616.1" cy="737.4" r="4.8"/><circle cx="1633.4" cy="733.9" r="4.8"/><circle cx="1632.1" cy="739.7" r="4.8"/><circle cx="1585.9" cy="741.9" r="4.8"/><circle cx="1591.4" cy="736.9" r="4.8"/><circle cx="1596.4" cy="736.9" r="4.8"/><circle cx="1602.4" cy="737.9" r="4.8"/><circle cx="1604.4" cy="743.9" r="4.8"/><circle cx="1580.9" cy="749.7" r="4.8"/><circle cx="1608.4" cy="753.4" r="4.8"/><circle cx="1603.9" cy="761.9" r="4.8"/><circle cx="1610.9" cy="759.9" r="4.8"/><circle cx="1621.1" cy="759.4" r="4.8"/><circle cx="1615.9" cy="763.9" r="4.8"/><circle cx="1637.7" cy="759.1" r="4.8"/><circle cx="1650.9" cy="755.9" r="4.8"/><circle cx="1648.9" cy="760.4" r="4.8"/><circle cx="1654.9" cy="760.9" r="4.8"/><circle cx="1658.9" cy="763.9" r="4.8"/><circle cx="1617" cy="771" r="4.8"/><circle cx="1622" cy="773.5" r="4.8"/><circle cx="1638.2" cy="768" r="4.8"/><circle cx="1636.5" cy="773" r="4.8"/><circle cx="1657.9" cy="765" r="4.8"/><circle cx="1661.9" cy="768" r="4.8"/><circle cx="1667.9" cy="767" r="4.8"/><circle cx="1669.9" cy="771" r="4.8"/><circle cx="1660.9" cy="775.5" r="4.8"/><circle cx="1672.4" cy="776" r="4.8"/><circle cx="1652.9" cy="764" r="4.8"/><circle cx="1657.9" cy="770" r="4.8"/><circle cx="1636.2" cy="787.8" r="4.8"/><circle cx="1647.7" cy="793" r="4.8"/><circle cx="1677.9" cy="785" r="4.8"/><circle cx="1681.4" cy="786.5" r="4.8"/><circle cx="1675.9" cy="791" r="4.8"/><circle cx="1684.9" cy="799.5" r="4.8"/><circle cx="1695.6" cy="792.5" r="4.8"/><circle cx="1696.4" cy="800.5" r="4.8"/><circle cx="1702.9" cy="798" r="4.8"/><circle cx="1709.9" cy="802.5" r="4.8"/><circle cx="1718.9" cy="804" r="4.8"/><circle cx="1718.4" cy="810.9" r="4.8"/><circle cx="1725.4" cy="811.9" r="4.8"/><circle cx="1721.9" cy="818.9" r="4.8"/><circle cx="1719.9" cy="814.9" r="4.8"/><circle cx="1687.7" cy="810.7" r="4.8"/><circle cx="1698.9" cy="816.6" r="4.8"/><circle cx="1749.8" cy="818.4" r="4.8"/><circle cx="1794.9" cy="833.5" r="4.8"/><circle cx="1815.4" cy="842.1" r="4.8"/><circle cx="1819.4" cy="843.2" r="4.8"/><circle cx="1823.6" cy="842" r="4.8"/><circle cx="1849.2" cy="845.7" r="4.8"/><circle cx="1944.7" cy="858.9" r="4.8"/><circle cx="1948.4" cy="859.2" r="4.8"/><circle cx="1951.4" cy="858.9" r="4.8"/><circle cx="1983.8" cy="861.6" r="4.8"/><circle cx="1520.3" cy="884.8" r="4.8"/></g>
<rect class="fr" x="1497" y="574.3" width="509.6" height="325.1"/>
<path class="tk" d="M1519.6 899.4v2.2M1591.1 899.4v2.2M1662.5 899.4v2.2M1734 899.4v2.2M1805.5 899.4v2.2M1876.9 899.4v2.2M1948.4 899.4v2.2M1497 884.9h-2.2M1497 825.7h-2.2M1497 766.5h-2.2M1497 707.4h-2.2M1497 648.2h-2.2M1497 589h-2.2"/>
<text class="t" text-anchor="middle" x="1519.6" y="924.5">0</text><text class="t" text-anchor="middle" x="1591.1" y="924.5">100</text><text class="t" text-anchor="middle" x="1662.5" y="924.5">200</text><text class="t" text-anchor="middle" x="1734" y="924.5">300</text><text class="t" text-anchor="middle" x="1805.5" y="924.5">400</text><text class="t" text-anchor="middle" x="1876.9" y="924.5">500</text><text class="t" text-anchor="middle" x="1948.4" y="924.5">600</text>
<text class="t" text-anchor="end" x="1493.1" y="895.2">0.0</text><text class="t" text-anchor="end" x="1493.1" y="836">0.2</text><text class="t" text-anchor="end" x="1493.1" y="776.8">0.4</text><text class="t" text-anchor="end" x="1493.1" y="717.7">0.6</text><text class="t" text-anchor="end" x="1493.1" y="658.5">0.8</text><text class="t" text-anchor="end" x="1493.1" y="599.3">1.0</text>
<text class="l" x="1751.8" y="958.7">Degree</text>
<text class="y" transform="translate(1439.8 749.8) rotate(-90)">C<tspan class="yi" dx="-0.1" dy="4.9">i</tspan></text>
</g>
<text class="h" x="1000.2" y="530.2">19 February</text>
<text class="h" x="1000.2" y="1050.4">5 March</text>
</svg>
</body>
</html>
